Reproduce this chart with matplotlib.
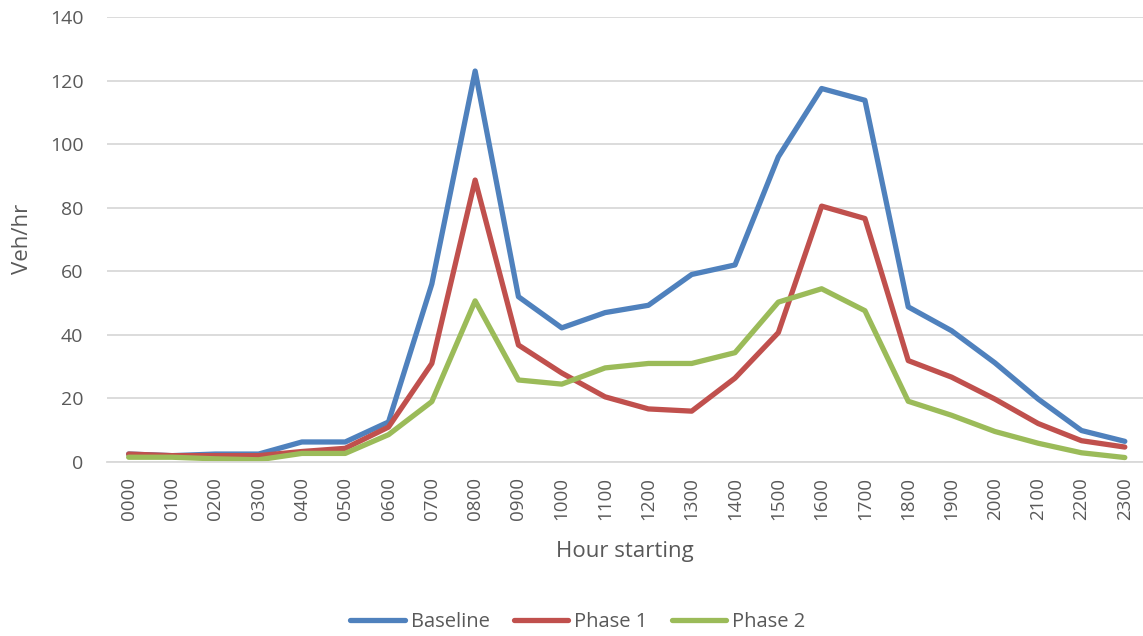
import matplotlib
matplotlib.use("Agg")
import matplotlib.pyplot as plt

hours = ["0000", "0100", "0200", "0300", "0400", "0500", "0600", "0700", "0800", "0900",
         "1000", "1100", "1200", "1300", "1400", "1500", "1600", "1700", "1800", "1900",
         "2000", "2100", "2200", "2300"]
baseline = [2.5, 2, 2.5, 2.5, 6.3, 6.3, 12.6, 56, 123, 52, 42.2, 47, 49.3, 59, 62, 96,
            117.5, 113.8, 48.8, 41.3, 31.2, 19.8, 9.9, 6.5]
phase1 = [2.5, 2, 2, 2, 3.3, 4.3, 11, 31, 88.7, 36.8, 28, 20.5, 16.7, 16, 26.4, 40.7,
          80.5, 76.6, 31.9, 26.7, 19.8, 12.1, 6.7, 4.7]
phase2 = [1.5, 1.5, 1, 0.7, 2.7, 2.7, 8.6, 19, 50.7, 25.8, 24.5, 29.6, 31, 31, 34.4, 50.3,
          54.5, 47.6, 19.1, 14.7, 9.6, 5.9, 2.9, 1.4]
y_ticks = [0, 20, 40, 60, 80, 100, 120, 140]

plt.rcParams['font.family'] = ['Open Sans', 'DejaVu Sans']
txt = '#595959'
W, H = 1143, 636

fig = plt.figure(figsize=(W / 100, H / 100), dpi=100)
ax = fig.add_axes([107 / W, 1 - 462 / H, 1 - 107 / W, (462 - 17) / H])

x = list(range(len(hours)))
kw = dict(lw=3.8, solid_joinstyle='round', solid_capstyle='round')
ax.plot(x, baseline, color='#4F81BD', label='Baseline', **kw)
ax.plot(x, phase1, color='#C0504D', label='Phase 1', **kw)
ax.plot(x, phase2, color='#9BBB59', label='Phase 2', **kw)

ax.set_xlim(-0.5, 23.42)
ax.set_ylim(0, 140)
ax.set_yticks(y_ticks)
ax.set_xticks(x)
ax.set_xticklabels(hours, rotation=90)
ax.grid(axis='y', color='#D9D9D9', lw=1.3)
ax.set_axisbelow(True)
for s in ['top', 'right', 'left']:
    ax.spines[s].set_visible(False)
ax.spines['bottom'].set_color('#D9D9D9')
ax.spines['bottom'].set_linewidth(1.3)
ax.tick_params(axis='x', length=0, labelsize=13.5, colors=txt, pad=11)
ax.tick_params(axis='y', length=0, labelsize=14, colors=txt, pad=17)

fig.text(625 / W, 1 - 552 / H, 'Hour starting', ha='center', va='center', fontsize=16, color=txt)
fig.text(23 / W, 1 - 239 / H, 'Veh/hr', ha='center', va='center', rotation=90, fontsize=16, color=txt)

fig.legend(loc='center', bbox_to_anchor=(578 / W, 1 - 622 / H), ncol=3, frameon=False,
           fontsize=14.5, labelcolor=txt, handlelength=2.7, handletextpad=0.3, columnspacing=1.2)

fig.savefig('out.png', dpi=100)
